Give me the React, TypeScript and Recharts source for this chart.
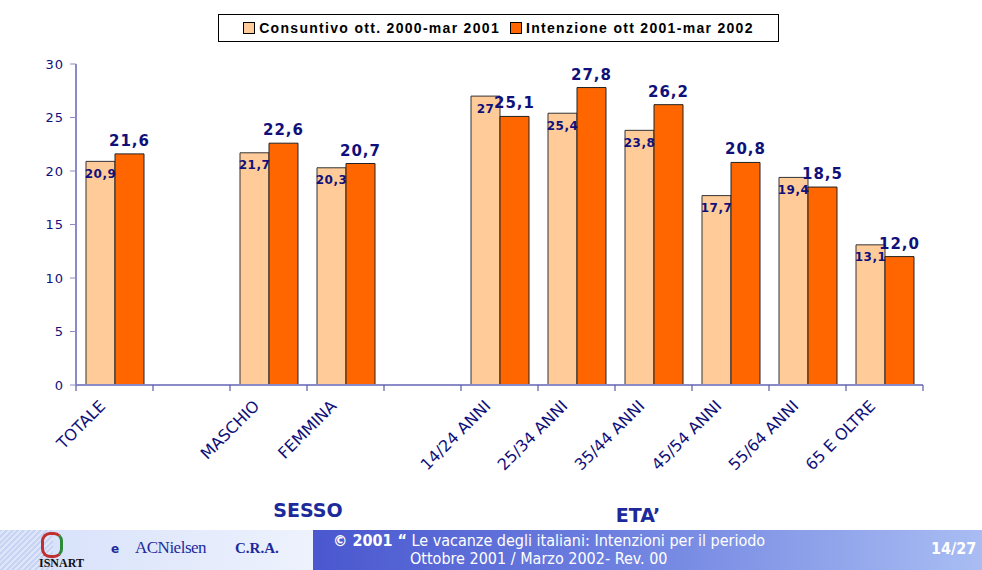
import React from 'react'
import { BarChart, Bar, XAxis, YAxis, LabelList } from 'recharts'

const categories = ['TOTALE', '', 'MASCHIO', 'FEMMINA', '', '14/24 ANNI', '25/34 ANNI', '35/44 ANNI', '45/54 ANNI', '55/64 ANNI', '65 E OLTRE']
const consuntivo = [20.9, null, 21.7, 20.3, null, 27, 25.4, 23.8, 17.7, 19.4, 13.1]
const intenzione = [21.6, null, 22.6, 20.7, null, 25.1, 27.8, 26.2, 20.8, 18.5, 12.0]
const yTicks = [0, 5, 10, 15, 20, 25, 30]

const NAVY = '#10107a'
const AXIS = '#8a8ac8'
const SLOT = 847 / 11
const AXIS_Y = 385

const data = categories.map((c, i) => ({ name: c, a: consuntivo[i], b: intenzione[i] }))

function fmtA(v: any) {
  if (v == null) return ''
  return Number.isInteger(v) ? String(v) : String(v).replace('.', ',')
}

function fmtB(v: any) {
  if (v == null) return ''
  return Number(v).toFixed(1).replace('.', ',')
}

function CatTick(props: any) {
  const { x, payload, index } = props
  const tx = x - 8
  const ty = AXIS_Y + 22
  return (
    <g>
      <line x1={x - SLOT / 2} y1={AXIS_Y} x2={x - SLOT / 2} y2={AXIS_Y + 6} stroke="#5a5aa8" strokeWidth={1.2} />
      {index === categories.length - 1 && (
        <line x1={x + SLOT / 2} y1={AXIS_Y} x2={x + SLOT / 2} y2={AXIS_Y + 6} stroke="#5a5aa8" strokeWidth={1.2} />
      )}
      <text
        x={tx}
        y={ty}
        transform={`rotate(-45, ${tx}, ${ty})`}
        textAnchor="end"
        fontSize={16}
        fill={NAVY}
        fontFamily="DejaVu Sans"
      >
        {payload.value}
      </text>
    </g>
  )
}

export default function App() {
  return (
    <div style={{ position: 'absolute', left: 0, top: 0, width: 982, height: 570, background: '#fff', overflow: 'hidden', fontFamily: 'DejaVu Sans' }}>
      <BarChart
        width={982}
        height={530}
        data={data}
        margin={{ top: 64, right: 59, bottom: 45, left: 16 }}
        barCategoryGap={10}
        barGap={0}
      >
        <YAxis
          domain={[0, 30]}
          ticks={yTicks}
          width={60}
          axisLine={{ stroke: AXIS, strokeWidth: 2 }}
          tickLine={{ stroke: AXIS }}
          tickSize={6}
          tickMargin={6}
          tick={{ fill: NAVY, fontSize: 13, fontFamily: 'DejaVu Sans', letterSpacing: 1 }}
        />
        <XAxis
          dataKey="name"
          interval={0}
          height={100}
          axisLine={{ stroke: AXIS, strokeWidth: 2 }}
          tickLine={false}
          tick={<CatTick />}
        />
        <Bar dataKey="a" fill="#ffcc99" stroke="#333" strokeWidth={1} isAnimationActive={false}>
          <LabelList
            dataKey="a"
            position="insideTop"
            offset={8}
            formatter={fmtA}
            fill={NAVY}
            fontSize={12}
            fontWeight="bold"
            fontFamily="DejaVu Sans"
            letterSpacing={0.5}
          />
        </Bar>
        <Bar dataKey="b" fill="#ff6600" stroke="#222" strokeWidth={1} isAnimationActive={false}>
          <LabelList
            dataKey="b"
            position="top"
            offset={8}
            formatter={fmtB}
            fill={NAVY}
            fontSize={15}
            fontWeight="bold"
            fontFamily="DejaVu Sans"
            letterSpacing={1}
          />
        </Bar>
      </BarChart>

      {/* Legend */}
      <div style={{ position: 'absolute', left: 218, top: 14, width: 559, height: 26, border: '1px solid #000', display: 'flex', alignItems: 'center', justifyContent: 'center', gap: 10, fontFamily: 'Liberation Sans, Arial', fontWeight: 'bold', fontSize: 14, letterSpacing: 1.3 }}>
        <span style={{ display: 'flex', alignItems: 'center', gap: 4 }}>
          <span style={{ width: 10, height: 10, background: '#ffcc99', border: '1px solid #000' }} />
          Consuntivo ott. 2000-mar 2001
        </span>
        <span style={{ display: 'flex', alignItems: 'center', gap: 4 }}>
          <span style={{ width: 10, height: 10, background: '#ff6600', border: '1px solid #000' }} />
          Intenzione ott 2001-mar 2002
        </span>
      </div>

      {/* Group labels */}
      <div style={{ position: 'absolute', left: 260, top: 499, width: 96, textAlign: 'center', color: '#1c2a9c', fontWeight: 'bold', fontSize: 19 }}>SESSO</div>
      <div style={{ position: 'absolute', left: 590, top: 504, width: 96, textAlign: 'center', color: '#1c2a9c', fontWeight: 'bold', fontSize: 19 }}>ETA’</div>

      {/* Footer */}
      <div style={{ position: 'absolute', left: 0, top: 530, width: 982, height: 40, display: 'flex' }}>
        <div style={{ width: 53, background: 'repeating-linear-gradient(135deg, #c8d4f4 0 2px, #dfe6fa 2px 4px)' }} />
        <div style={{ width: 260, background: 'linear-gradient(90deg, #d8e2fa, #eef2fd)', display: 'flex', alignItems: 'center', position: 'relative' }}>
          <span style={{ position: 'absolute', left: -14, top: 26, fontFamily: 'Liberation Serif', fontWeight: 'bold', fontSize: 12, color: '#111' }}>ISNART</span>
          <span style={{ position: 'absolute', left: -12, top: 2, width: 16, height: 20, borderRadius: 9, border: '3px solid #c03030', borderRightColor: '#2d8a3a' }} />
          <span style={{ position: 'absolute', left: 58, top: 12, fontWeight: 'bold', fontSize: 12, color: '#1c2a9c' }}>e</span>
          <span style={{ position: 'absolute', left: 82, top: 8, fontFamily: 'Liberation Serif', fontSize: 17, color: '#1c2a9c', letterSpacing: -0.5 }}>ACNielsen</span>
          <span style={{ position: 'absolute', left: 182, top: 10, fontFamily: 'Liberation Serif', fontWeight: 'bold', fontSize: 15, color: '#1c2a9c' }}>C.R.A.</span>
        </div>
        <div style={{ flex: 1, background: 'linear-gradient(90deg, #4a57cf 0%, #6d80e0 45%, #a9bdf3 100%)', position: 'relative', color: '#fff', fontFamily: 'DejaVu Sans Condensed, DejaVu Sans', fontSize: 16, lineHeight: '17px' }}>
          <div style={{ position: 'absolute', left: 20, top: 2, whiteSpace: 'nowrap' }}>
            <b>© 2001 “</b> Le vacanze degli italiani: Intenzioni per il periodo
          </div>
          <div style={{ position: 'absolute', left: 97, top: 20, whiteSpace: 'nowrap' }}>Ottobre 2001 / Marzo 2002- Rev. 00</div>
          <div style={{ position: 'absolute', left: 618, top: 10, fontWeight: 'bold', fontSize: 16 }}>14/27</div>
        </div>
      </div>
    </div>
  )
}
